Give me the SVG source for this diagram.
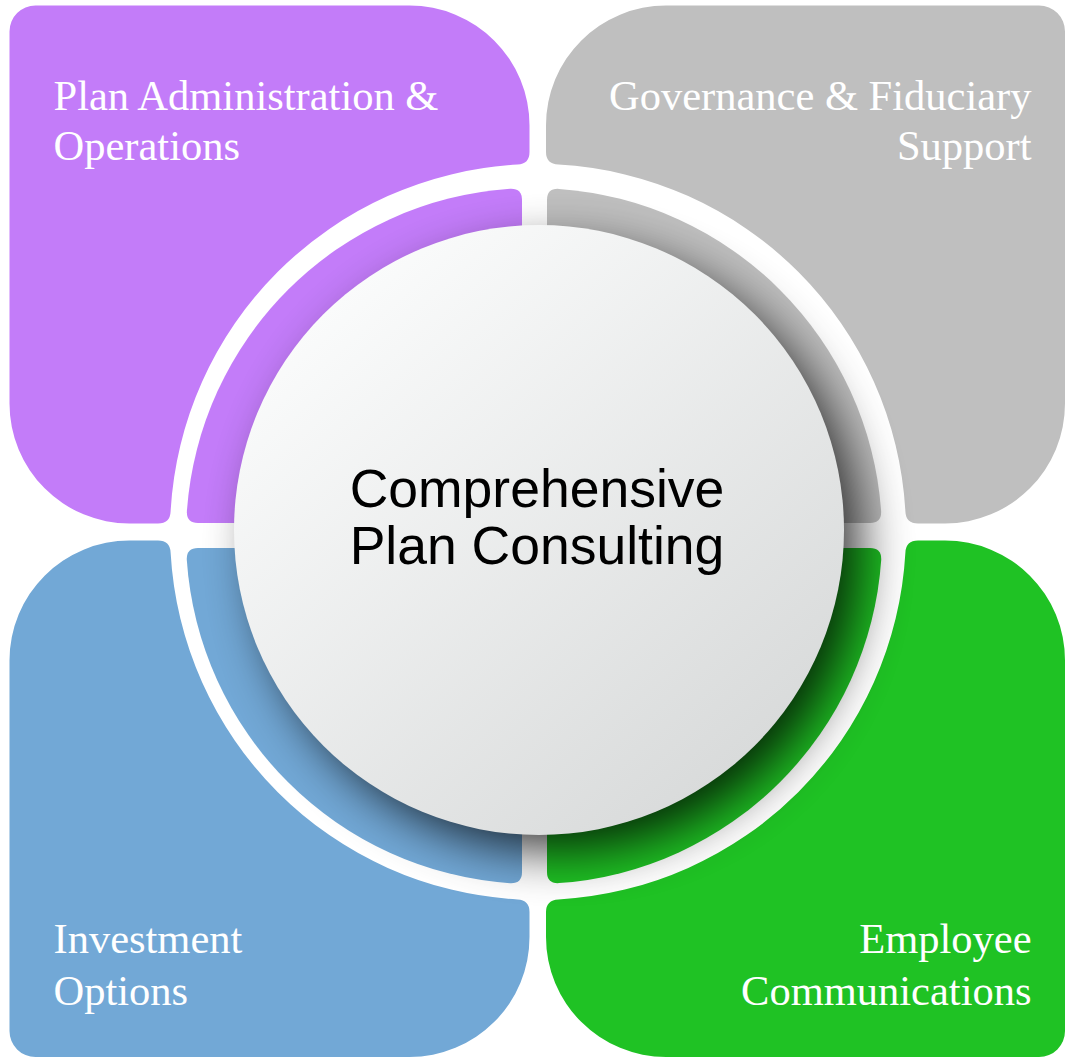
<svg xmlns="http://www.w3.org/2000/svg" width="1066" height="1058" viewBox="0 0 1066 1058">
  <defs>
    <linearGradient id="hubFill" x1="0.15" y1="0.1" x2="0.85" y2="0.9">
      <stop offset="0" stop-color="#fbfcfc"/>
      <stop offset="1" stop-color="#d8dada"/>
    </linearGradient>
    <filter id="hubShadow" x="-30%" y="-30%" width="160%" height="160%">
      <feGaussianBlur stdDeviation="26"/>
    </filter>
    <style>
      .label { font-family: "Liberation Serif", "Times New Roman", serif; font-size: 42.5px; fill: #ffffff; }
      .hubText { font-family: "Liberation Sans", Arial, sans-serif; font-size: 53.5px; fill: #000000; text-anchor: middle; }
      .purple { fill: #c37cf9; }
      .grey { fill: #bfbfbf; }
      .blue { fill: #72a8d6; }
      .green { fill: #1fc224; }
    </style>
  </defs>

  <rect width="1066" height="1058" fill="#ffffff"/>

  <!-- Outer quadrant panels with labels -->
  <g id="plan-administration">
    <path class="purple" d="M529.5,152 Q529.5,164.1 517.5,164.6 A368,368 0 0 0 170.6,511.5 Q170.1,523.5 158,523.5 L129.5,523.5 A120,120 0 0 1 9.5,403.5 L9.5,31.5 A26,26 0 0 1 35.5,5.5 L409.5,5.5 A120,120 0 0 1 529.5,125.5 Z"/>
    <path class="purple" d="M522,523 L522,200 Q522,188.2 510,188.8 A348,348 0 0 0 186.9,511 Q186.2,523 198,523 Z"/>
    <text class="label" x="53.5" y="109.5">Plan Administration &amp;</text>
    <text class="label" x="53.5" y="160">Operations</text>
  </g>

  <g id="governance-fiduciary">
    <path class="grey" d="M546,152 L546,125.5 A120,120 0 0 1 666,5.5 L1039,5.5 A26,26 0 0 1 1065,31.5 L1065,403.5 A120,120 0 0 1 945,523.5 L918,523.5 Q905.9,523.5 905.4,511.5 A368,368 0 0 0 558.5,164.6 Q546,164.1 546,152 Z"/>
    <path class="grey" d="M547,523 L547,200 Q547,188.2 559,188.9 A348,348 0 0 1 881.1,511 Q881.8,523 870,523 Z"/>
    <text class="label" x="1031.5" y="109.5" text-anchor="end">Governance &amp; Fiduciary</text>
    <text class="label" x="1031.5" y="160" text-anchor="end">Support</text>
  </g>

  <g id="investment-options">
    <path class="blue" d="M9.5,660.5 A120,120 0 0 1 129.5,540.5 L158,540.5 Q170.1,540.5 170.6,552.5 A368,368 0 0 0 517.5,899.4 Q529.5,899.9 529.5,912 L529.5,937 A120,120 0 0 1 409.5,1057 L35.5,1057 A26,26 0 0 1 9.5,1031 Z"/>
    <path class="blue" d="M522,548 L198,548 Q186.2,548 186.8,560 A348,348 0 0 0 510,883.2 Q522,883.8 522,872 Z"/>
    <text class="label" x="53.5" y="953">Investment</text>
    <text class="label" x="53.5" y="1005">Options</text>
  </g>

  <g id="employee-communications">
    <path class="green" d="M546,912 Q546,899.9 558.5,899.4 A368,368 0 0 0 905.4,552.5 Q905.9,540.5 918,540.5 L945,540.5 A120,120 0 0 1 1065,660.5 L1065,1031 A26,26 0 0 1 1039,1057 L666,1057 A120,120 0 0 1 546,937 Z"/>
    <path class="green" d="M547,548 L870,548 Q881.8,548 881.2,560 A348,348 0 0 1 559,883.1 Q547,883.8 547,872 Z"/>
    <text class="label" x="1031.5" y="953" text-anchor="end">Employee</text>
    <text class="label" x="1031.5" y="1005" text-anchor="end">Communications</text>
  </g>

  <!-- Central hub with soft drop shadow -->
  <g id="hub">
    <circle cx="559" cy="550" r="300" fill="#000000" opacity="0.8" filter="url(#hubShadow)"/>
    <circle cx="539" cy="530" r="305" fill="url(#hubFill)"/>
    <text class="hubText" x="537" y="507">Comprehensive</text>
    <text class="hubText" x="537" y="564">Plan Consulting</text>
  </g>

  <g id="connectors"/>
</svg>
